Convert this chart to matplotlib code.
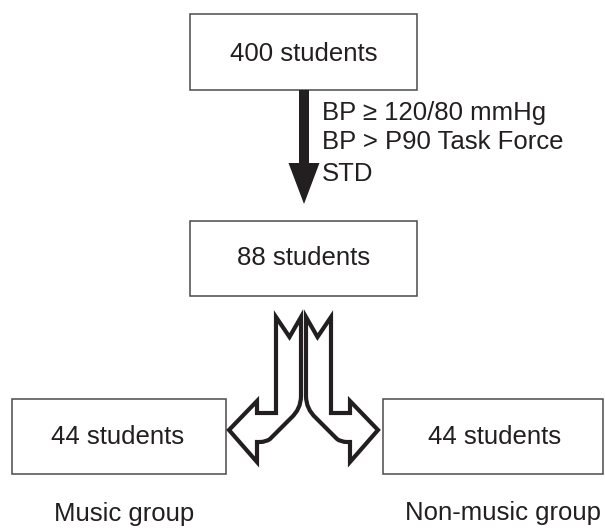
import matplotlib.pyplot as plt
from matplotlib.patches import Rectangle, FancyArrow, PathPatch
from matplotlib.path import Path

# flowchart content
counts = [400, 88, 44, 44]
groups = ["Music group", "Non-music group"]
criteria = ["BP \u2265 120/80 mmHg", "BP > P90 Task Force", "STD"]

ink = "#231f20"
plt.rcParams['font.family'] = ['Liberation Sans', 'DejaVu Sans']

fig = plt.figure(figsize=(6.05, 5.28), dpi=100)
ax = fig.add_axes([0, 0, 1, 1])
ax.set_xlim(0, 605)
ax.set_ylim(528, 0)
ax.axis('off')

# boxes: (x0, y0, x1, y1) in pixel space
boxes = [(190, 14, 417, 90), (190, 221, 417, 296), (12, 399, 226, 474), (383, 399, 603, 474)]
text_pos = [(303.5, 54), (303.5, 258), (118, 437), (495, 437)]
for (x0, y0, x1, y1), (tx, ty), n in zip(boxes, text_pos, counts):
    ax.add_patch(Rectangle((x0, y0), x1 - x0, y1 - y0, fill=False,
                           edgecolor="#4a4a4a", lw=1.1))
    ax.text(tx, ty, f"{n} students", ha='center', va='center',
            fontsize=18.5, color=ink)

# group captions under the bottom boxes
for (tx, ty), g in zip([(124, 514), (503, 513)], groups):
    ax.text(tx, ty, g, ha='center', va='center', fontsize=18.5, color=ink)

# black arrow between first two boxes
ax.add_patch(FancyArrow(304, 90, 0, 114, width=10, head_width=31, head_length=41,
                        length_includes_head=True, color=ink, lw=0))
for line, y in zip(criteria, [113, 142, 174]):
    ax.text(322, y, line, ha='left', va='center', fontsize=18.5, color=ink)

# split arrow (left one, the right one is its mirror)
M, L, C = Path.MOVETO, Path.LINETO, Path.CURVE3
left_pts = [(276, 317), (289.5, 337), (301, 317), (301, 396),
            (301, 409), (291, 418), (270, 439), (266, 442), (260, 442),
            (257, 442), (257, 462), (229, 430), (257, 401), (257, 413),
            (276, 413), (276, 317)]
codes = [M, L, L, L, C, C, L, C, C, L, L, L, L, L, L, Path.CLOSEPOLY]
cx = 303.5
for pts in [left_pts, [(2 * cx - x, y) for x, y in left_pts]]:
    ax.add_patch(PathPatch(Path(pts, codes), facecolor='white', edgecolor=ink,
                           lw=3.0, joinstyle='miter'))

fig.savefig("out.png", dpi=100)
